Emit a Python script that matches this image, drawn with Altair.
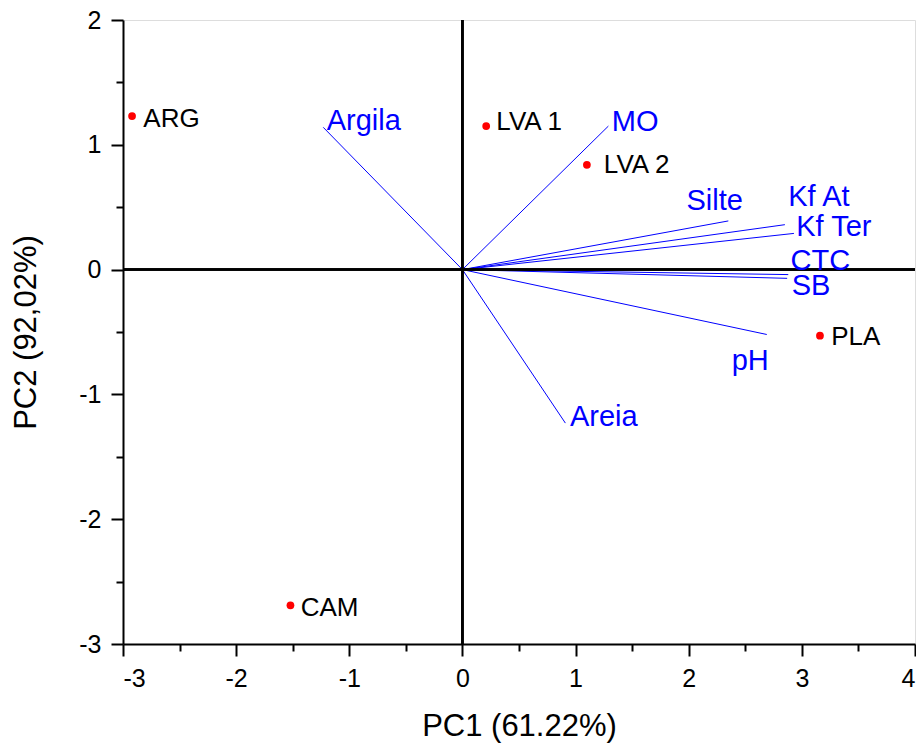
import altair as alt
import pandas as pd

# Sample scores
samples = ["ARG", "LVA 1", "LVA 2", "PLA", "CAM"]
sample_pc1 = [-2.92, 0.21, 1.10, 3.16, -1.52]
sample_pc2 = [1.23, 1.15, 0.84, -0.53, -2.69]
sample_label_pc1 = [-2.82, 0.30, 1.25, 3.26, -1.43]
sample_label_pc2 = [1.21, 1.18, 0.84, -0.54, -2.71]

# Variable loadings (vectors)
variables = ["Argila", "MO", "Silte", "Kf At", "Kf Ter", "CTC", "SB", "pH", "Areia"]
var_pc1 = [-1.23, 1.29, 2.35, 2.85, 2.93, 2.88, 2.87, 2.69, 0.91]
var_pc2 = [1.14, 1.15, 0.39, 0.36, 0.29, -0.04, -0.07, -0.52, -1.23]
var_label_pc1 = [-1.20, 1.32, 1.98, 2.88, 2.95, 2.90, 2.91, 2.38, 0.95]
var_label_pc2 = [1.19, 1.18, 0.55, 0.58, 0.34, 0.07, -0.13, -0.73, -1.18]

x_ticks = [-3, -2.5, -2, -1.5, -1, -0.5, 0, 0.5, 1, 1.5, 2, 2.5, 3, 3.5, 4]
y_ticks = [-3, -2.5, -2, -1.5, -1, -0.5, 0, 0.5, 1, 1.5, 2]

samples_df = pd.DataFrame({"name": samples, "pc1": sample_pc1, "pc2": sample_pc2,
                           "lx": sample_label_pc1, "ly": sample_label_pc2})
vars_df = pd.DataFrame({"name": variables, "x0": [0.0] * len(variables), "y0": [0.0] * len(variables),
                        "pc1": var_pc1, "pc2": var_pc2,
                        "lx": var_label_pc1, "ly": var_label_pc2})

FONT = "Liberation Sans"
major_test = "datum.value % 1 === 0"

xscale = alt.Scale(domain=[-3, 4], nice=False, zero=False)
yscale = alt.Scale(domain=[-3, 2], nice=False, zero=False)

xaxis = alt.Axis(
    title="PC1 (61.22%)", values=x_ticks, grid=False,
    labelExpr="datum.value % 1 === 0 ? '' + datum.value : ''",
    tickSize={"condition": {"test": major_test, "value": 12}, "value": 7},
    tickColor="black", tickWidth=2, domainColor="black", domainWidth=2,
    labelFont=FONT, labelFontSize=25, labelColor="black", labelPadding=10,
    titleFont=FONT, titleFontSize=31, titleFontWeight="normal", titleColor="black",
    titlePadding=20,
)
yaxis = alt.Axis(
    title="PC2 (92,02%)", values=y_ticks, grid=False,
    labelExpr="datum.value % 1 === 0 ? '' + datum.value : ''",
    tickSize={"condition": {"test": major_test, "value": 12}, "value": 7},
    tickColor="black", tickWidth=2, domainColor="black", domainWidth=2,
    labelFont=FONT, labelFontSize=25, labelColor="black", labelPadding=10,
    titleFont=FONT, titleFontSize=31, titleFontWeight="normal", titleColor="black",
    titlePadding=36,
)

base_v = alt.Chart(vars_df)
base_s = alt.Chart(samples_df)

vectors = base_v.mark_rule(color="#0000FF", strokeWidth=1).encode(
    x=alt.X("x0:Q", scale=xscale, axis=xaxis),
    y=alt.Y("y0:Q", scale=yscale, axis=yaxis),
    x2="pc1:Q", y2="pc2:Q",
)

zero_v = alt.Chart(samples_df).mark_rule(color="black", strokeWidth=2).encode(x=alt.datum(0))
zero_h = alt.Chart(samples_df).mark_rule(color="black", strokeWidth=2).encode(y=alt.datum(0))

var_text = base_v.mark_text(align="left", baseline="middle", font=FONT, fontSize=29,
                            color="#0000FF").encode(
    x="lx:Q", y="ly:Q", text="name:N")

points = base_s.mark_circle(color="#FF0000", size=60, opacity=1).encode(
    x="pc1:Q", y="pc2:Q")

sample_text = base_s.mark_text(align="left", baseline="middle", font=FONT, fontSize=26,
                               color="black").encode(
    x="lx:Q", y="ly:Q", text="name:N")

chart = alt.layer(vectors, zero_v, zero_h, var_text, points, sample_text).properties(
    width=792, height=624,
    autosize=alt.AutoSizeParams(type="none"),
    padding={"left": 115, "top": 12, "right": 1, "bottom": 101},
).configure_view(stroke="black", strokeWidth=2).configure(background="white")

chart.save("out.html", embed_options={"renderer": "svg", "actions": False})
